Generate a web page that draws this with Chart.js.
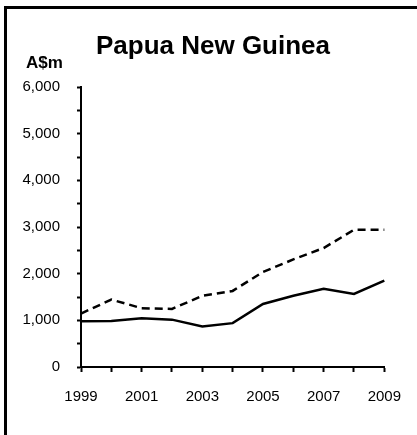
<!DOCTYPE html>
<html>
<head>
<meta charset="utf-8">
<script src="https://cdn.jsdelivr.net/npm/chart.js@4"></script>
<style>
  html, body { margin: 0; padding: 0; background: #fff; }
  #wrap { position: relative; width: 417px; height: 435px; overflow: hidden; }
  #frame { position: absolute; left: 4px; top: 6px; width: 420px; height: 440px;
           border-top: 3px solid #000; border-left: 3px solid #000; }
  #chart { position: absolute; left: 0; top: 0; }
</style>
</head>
<body>
<div id="wrap">
  <div id="frame"></div>
  <canvas id="chart" width="417" height="435"></canvas>
</div>
<script>
const years = ['1999', '2000', '2001', '2002', '2003', '2004', '2005', '2006', '2007', '2008', '2009'];
const serieSolida = [980, 985, 1045, 1015, 870, 940, 1350, 1525, 1675, 1565, 1850];
const serieDiscontinua = [1145, 1445, 1260, 1245, 1525, 1630, 2035, 2305, 2550, 2940, 2940];
const tituloGrafica = 'Papua New Guinea';
const unidad = 'A$m';

const fuente = '"Liberation Sans", Arial, sans-serif';

// titulo y unidad dibujados a mano
const textosPlugin = {
  id: 'textos',
  afterDraw(chart) {
    const ctx = chart.ctx;
    ctx.save();
    ctx.fillStyle = '#000';
    ctx.textBaseline = 'alphabetic';
    ctx.font = 'bold 26px ' + fuente;
    ctx.textAlign = 'center';
    ctx.fillText(tituloGrafica, 213, 54);
    ctx.font = 'bold 17px ' + fuente;
    ctx.textAlign = 'left';
    ctx.fillText(unidad, 26, 68);
    ctx.restore();
  }
};

const ctx = document.getElementById('chart').getContext('2d');
const configuracion = {
  type: 'line',
  data: {
    labels: years,
    datasets: [{
      data: serieSolida,
      borderColor: '#000',
      borderWidth: 2.5,
      pointRadius: 0,
      tension: 0,
      fill: false
    }, {
      data: serieDiscontinua,
      borderColor: '#000',
      borderWidth: 2.5,
      borderDash: [8, 5],
      pointRadius: 0,
      tension: 0,
      fill: false
    }]
  },
  options: {
    responsive: false,
    animation: false,
    layout: { padding: { left: 0, right: 31, top: 87, bottom: 0 } },
    plugins: {
      legend: { display: false },
      tooltip: { enabled: false }
    },
    scales: {
      x: {
        offset: false,
        afterFit: (scale) => { scale.height = 68; },
        border: { display: true, color: '#000', width: 2 },
        grid: { drawOnChartArea: false, drawTicks: true, tickLength: 5, tickWidth: 2, tickColor: '#000' },
        ticks: {
          autoSkip: false,
          maxRotation: 0,
          padding: 16,
          color: '#000',
          font: { family: fuente, size: 15 },
          callback: function (val, i) { return i % 2 === 0 ? this.getLabelForValue(val) : ''; }
        }
      },
      y: {
        min: 0,
        max: 6000,
        afterFit: (scale) => { scale.width = 81; },
        border: { display: true, color: '#000', width: 2 },
        grid: { drawOnChartArea: false, drawTicks: true, tickLength: 4, tickWidth: 2, tickColor: '#000' },
        ticks: {
          stepSize: 500,
          padding: 17,
          color: '#000',
          font: { family: fuente, size: 15 },
          callback: (v) => v % 1000 === 0 ? v.toLocaleString('en-US') : ''
        }
      }
    }
  },
  plugins: [textosPlugin]
};
const grafica = new Chart(ctx, configuracion);
</script>
</body>
</html>
